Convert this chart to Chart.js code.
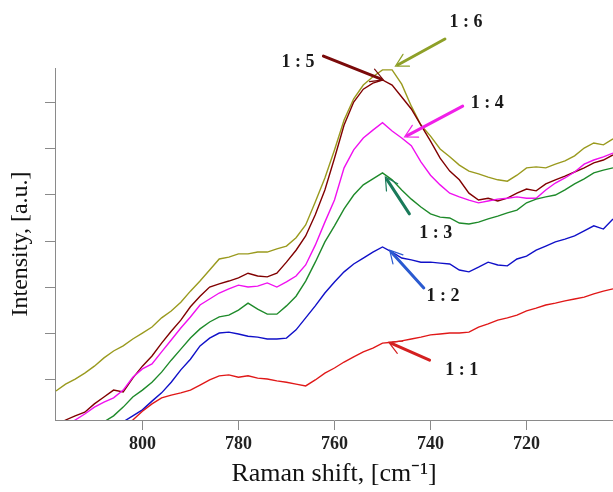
<!DOCTYPE html>
<html>
<head>
<meta charset="utf-8">
<script src="https://cdn.jsdelivr.net/npm/chart.js@4"></script>
<style>
  body { margin: 0; background: #fff; }
  #wrap { width: 613px; height: 492px; }
</style>
</head>
<body>
<div id="wrap"><canvas id="myChart" width="613" height="492"></canvas></div>
<script>
"use strict";
// Raman shift, cm-1 (x axis runs high -> low)
const shift = [818, 816, 814, 812, 810, 808, 806, 804, 802, 800, 798, 796, 794, 792, 790, 788, 786, 784, 782, 780,
  778, 776, 774, 772, 770, 768, 766, 764, 762, 760, 758, 756, 754, 752, 750, 748, 746, 744, 742, 740,
  738, 736, 734, 732, 730, 728, 726, 724, 722, 720, 718, 716, 714, 712, 710, 708, 706, 704, 702];

// intensity, a.u.
const ratio11 = [-8.0, -7.0, -5.9, -4.8, -3.5, -2.4, -1.3, -0.2, 1.1, 3.0, 4.6, 5.9, 6.5, 7.0, 7.6, 8.7, 9.8, 10.7, 10.9, 10.4,
  10.7, 10.2, 10.0, 9.6, 9.3, 8.9, 8.5, 9.8, 11.3, 12.4, 13.7, 14.8, 15.9, 16.7, 17.8, 18.0, 18.3, 18.7, 19.1, 19.6,
  19.8, 20.0, 20.0, 20.2, 21.3, 22.0, 22.8, 23.3, 23.9, 24.8, 25.4, 26.1, 26.5, 27.0, 27.4, 27.8, 28.5, 29.1, 29.6];
const ratio12 = [-5.4, -4.3, -3.3, -2.4, -1.5, -0.7, 0.0, 0.7, 2.0, 3.3, 5.2, 7.0, 9.3, 12.0, 14.3, 17.2, 18.9, 20.0, 20.2, 19.8,
  19.3, 19.1, 18.7, 18.7, 18.9, 20.7, 23.3, 25.9, 28.7, 31.1, 33.3, 35.0, 36.3, 37.6, 38.7, 37.6, 36.3, 35.9, 35.4, 35.4,
  35.2, 35.0, 33.7, 33.3, 34.3, 35.4, 34.8, 34.6, 36.1, 36.7, 38.0, 38.9, 39.8, 40.4, 41.1, 42.2, 43.3, 42.6, 44.8];
const ratio13 = [-3.3, -2.6, -1.7, -1.1, -0.2, 0.7, 2.0, 3.9, 6.1, 7.6, 9.3, 11.5, 14.1, 16.5, 18.9, 20.9, 22.4, 23.5, 23.9, 25.0,
  26.5, 25.2, 24.1, 24.1, 25.9, 28.0, 31.3, 35.4, 39.8, 43.3, 47.0, 50.0, 52.2, 53.5, 54.8, 53.3, 51.1, 49.1, 47.4, 45.9,
  45.2, 45.0, 43.9, 43.7, 44.1, 44.8, 45.4, 46.1, 46.7, 48.3, 49.1, 49.6, 50.0, 51.1, 52.4, 53.5, 54.8, 55.4, 55.9];
const ratio14 = [-1.1, -0.2, 1.1, 2.4, 3.9, 5.0, 5.9, 7.6, 10.4, 12.2, 13.3, 15.9, 18.5, 21.1, 23.5, 26.1, 27.4, 28.7, 29.6, 30.4,
  30.0, 30.2, 30.9, 30.0, 31.1, 32.4, 34.8, 39.1, 44.1, 48.9, 55.9, 59.8, 62.4, 64.1, 65.7, 63.9, 62.4, 60.7, 57.2, 54.3,
  52.2, 50.4, 49.6, 48.9, 48.3, 48.7, 49.1, 49.3, 49.6, 49.3, 49.3, 51.1, 52.6, 53.7, 55.0, 56.7, 57.6, 58.3, 59.1];
const ratio15 = [-0.2, 1.1, 2.0, 2.8, 4.6, 6.1, 7.6, 7.2, 10.2, 12.8, 15.0, 17.8, 20.4, 22.8, 25.7, 28.0, 30.0, 30.7, 31.3, 32.0,
  33.0, 32.4, 32.2, 33.0, 35.4, 38.0, 41.1, 45.7, 51.1, 58.0, 65.2, 70.2, 73.0, 74.3, 75.0, 73.9, 71.3, 68.7, 65.2, 61.7,
  58.0, 55.2, 53.3, 50.4, 48.9, 49.3, 48.7, 49.3, 50.4, 51.3, 50.9, 52.4, 53.3, 54.1, 55.0, 55.9, 57.0, 57.6, 58.7];
const ratio16 = [7.4, 8.9, 10.0, 11.3, 12.8, 14.6, 16.1, 17.2, 18.7, 20.0, 21.3, 23.3, 24.8, 26.7, 29.1, 31.3, 33.7, 36.1, 36.5, 37.2,
  37.2, 37.6, 37.6, 38.3, 38.9, 40.7, 43.5, 48.5, 53.7, 59.8, 66.3, 70.9, 73.9, 75.7, 77.2, 77.2, 74.1, 69.3, 65.2, 62.8,
  60.0, 58.3, 56.5, 55.2, 54.6, 53.9, 53.3, 53.0, 54.3, 55.9, 56.1, 55.9, 56.7, 57.4, 58.5, 60.2, 61.3, 60.9, 62.2];

const seriesNames = ["1 : 1", "1 : 2", "1 : 3", "1 : 4", "1 : 5", "1 : 6"];
const seriesValues = [ratio11, ratio12, ratio13, ratio14, ratio15, ratio16];
const seriesColors = ["#e01818", "#1010c8", "#1e8a2a", "#f010f0", "#800000", "#9a9a1e"];
const arrowColors = ["#d42020", "#2a5ad0", "#1a7a5a", "#f020e8", "#7a0a0a", "#8ea028"];

// y tick marks (no labels on the original)
const yTicks = [10, 20, 30, 40, 50, 60, 70];
const xTicks = [800, 780, 760, 740, 720];

// annotation arrows: [shift, intensity]
const noteText = [[733.5, 12.0], [737.4, 28.0], [738.9, 41.7], [728.2, 70.0], [767.6, 78.9], [732.6, 87.6]];
const noteTail = [[740.2, 14.1], [741.4, 29.8], [744.4, 45.9], [733.3, 69.3], [762.3, 80.2], [737.0, 83.9]];
const noteTip = [[748.7, 18.0], [748.5, 38.0], [749.4, 53.9], [745.4, 62.6], [749.8, 75.0], [747.3, 78.0]];

const arrowNotes = {
  id: "arrowNotes",
  afterDatasetsDraw(chart) {
    const { ctx, scales: { x, y } } = chart;
    ctx.save();
    seriesNames.forEach((txt, i) => {
      const x0 = x.getPixelForValue(noteTail[i][0]);
      const y0 = y.getPixelForValue(noteTail[i][1]);
      const x1 = x.getPixelForValue(noteTip[i][0]);
      const y1 = y.getPixelForValue(noteTip[i][1]);
      const a = Math.atan2(y1 - y0, x1 - x0);
      ctx.strokeStyle = arrowColors[i];
      ctx.lineCap = "round";
      ctx.lineWidth = 3;
      ctx.beginPath();
      ctx.moveTo(x0, y0);
      ctx.lineTo(x1 - 3 * Math.cos(a), y1 - 3 * Math.sin(a));
      ctx.stroke();
      ctx.lineWidth = 1.2;
      ctx.beginPath();
      ctx.moveTo(x1 - 14 * Math.cos(a - 0.5), y1 - 14 * Math.sin(a - 0.5));
      ctx.lineTo(x1, y1);
      ctx.lineTo(x1 - 14 * Math.cos(a + 0.5), y1 - 14 * Math.sin(a + 0.5));
      ctx.stroke();
      ctx.fillStyle = "#1a1a1a";
      ctx.font = 'bold 18px "Liberation Serif"';
      ctx.textAlign = "center";
      ctx.textBaseline = "middle";
      ctx.fillText(txt, x.getPixelForValue(noteText[i][0]), y.getPixelForValue(noteText[i][1]));
    });
    ctx.restore();
  }
};

const ctx = document.getElementById("myChart").getContext("2d");
const myChart = new Chart(ctx, {
  type: "line",
  data: {
    labels: shift,
    datasets: seriesValues.map((vals, i) => ({
      label: seriesNames[i],
      data: vals.map((v, k) => ({ x: shift[k], y: v })),
      borderColor: seriesColors[i],
      backgroundColor: seriesColors[i],
      borderWidth: 1.4,
      pointRadius: 0,
      tension: 0,
      fill: false,
    })),
  },
  options: {
    responsive: false,
    animation: false,
    layout: { padding: { top: 68, right: 0, bottom: 0, left: 0 } },
    plugins: {
      legend: { display: false },
      tooltip: { enabled: false },
    },
    scales: {
      x: {
        type: "linear",
        reverse: true,
        min: 702,
        max: 818.2,
        afterBuildTicks: (s) => { s.ticks = xTicks.map((v) => ({ value: v })); },
        afterFit: (s) => { s.height = 72; },
        grid: { drawOnChartArea: false, drawTicks: true, tickLength: 10, color: "#8a8a8a" },
        border: { display: true, color: "#8a8a8a", width: 1 },
        ticks: {
          color: "#222",
          padding: 4,
          maxRotation: 0,
          font: { family: "Liberation Serif", size: 18, weight: "bold" },
        },
        title: {
          display: true,
          text: "Raman shift, [cm\u207B\u00B9]",
          color: "#111",
          font: { family: "Liberation Serif", size: 26, lineHeight: 1 },
          padding: { top: 0, bottom: 5 },
        },
      },
      y: {
        min: 1.1,
        max: 77.6,
        afterBuildTicks: (s) => { s.ticks = yTicks.map((v) => ({ value: v })); },
        afterFit: (s) => { s.width = 55; },
        grid: { drawOnChartArea: false, drawTicks: true, tickLength: 10, color: "#8a8a8a" },
        border: { display: true, color: "#8a8a8a", width: 1 },
        ticks: { display: false },
        title: {
          display: true,
          text: "Intensity, [a.u.]",
          color: "#111",
          font: { family: "Liberation Serif", size: 24, lineHeight: 1 },
          padding: { top: 9, bottom: 0 },
        },
      },
    },
  },
  plugins: [arrowNotes],
});
</script>
</body>
</html>
